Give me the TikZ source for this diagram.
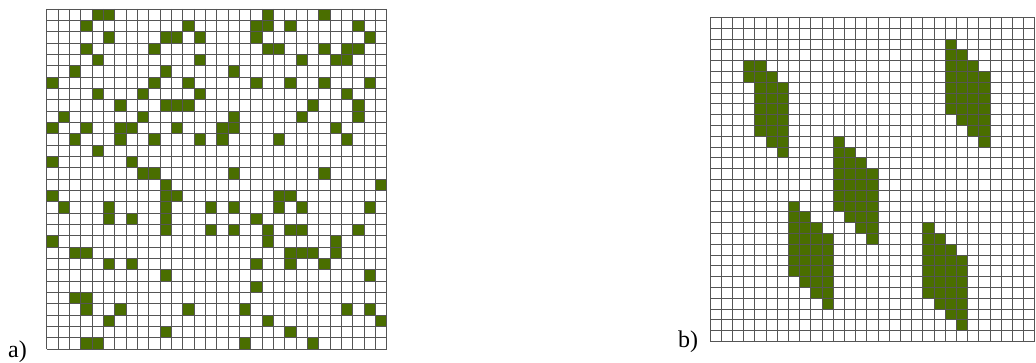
\documentclass[tikz,border=0pt]{standalone}
\usepackage{fontspec}
\setmainfont{Liberation Serif}
\definecolor{cellgreen}{RGB}{74,110,0}
\definecolor{gridgray}{RGB}{85,85,85}
\tikzset{
  cellfill/.style={fill=cellgreen},
  gridlines/.style={draw=gridgray, line width=0.7pt},
  panellabel/.style={anchor=base west, inner sep=0pt, font=\fontsize{24}{24}\selectfont},
}
\begin{document}
\begin{tikzpicture}[x=1pt,y=-1pt]
\useasboundingbox (0,0) rectangle (1036,363);
% ---- grid a ----
\begin{scope}[shift={(46.7,9)}, x=11.333pt, y=-11.333pt]
  \foreach \r/\cols in {
    0/{4,5,19,24}, 1/{3,12,18,19,21,27}, 2/{5,10,11,13,18,28},
    3/{3,9,19,20,24,26,27}, 4/{4,13,22,25,26}, 5/{2,10,16},
    6/{0,9,12,18,21,24,28}, 7/{4,8,13,26}, 8/{6,10,11,12,23,27},
    9/{1,8,16,22,27}, 10/{0,3,6,7,11,15,16,25}, 11/{2,6,9,13,15,20,26},
    12/{4}, 13/{0,7}, 14/{8,9,16,24}, 15/{10,29}, 16/{0,10,11,20,21},
    17/{1,5,10,14,16,20,22,28}, 18/{5,7,10,18}, 19/{10,14,16,19,21,22,27},
    20/{0,19,25}, 21/{2,3,21,22,23,25}, 22/{5,7,18,21,24}, 23/{10,28},
    24/{18}, 25/{2,3}, 26/{3,6,12,17,26,28}, 27/{5,19,29}, 28/{10,21},
    29/{3,4,17,23}}{
    \foreach \c in \cols { \fill[cellfill] (\c,\r) rectangle ++(1,1); }
  }
  \foreach \i in {0,...,30} {
    \draw[gridlines] (\i,0) -- (\i,30);
    \draw[gridlines] (0,\i) -- (30,\i);
  }
\end{scope}
% ---- grid b ----
\begin{scope}[shift={(710,17.3)}, x=11.2pt, y=-10.8pt]
  \foreach \c/\a/\b in {3/4/5, 4/4/10, 5/5/11, 6/6/12,
      21/2/8, 22/3/9, 23/4/10, 24/5/11,
      11/11/17, 12/12/18, 13/13/19, 14/14/20,
      7/17/23, 8/18/24, 9/19/25, 10/20/26,
      19/19/25, 20/20/26, 21/21/27, 22/22/28} {
    \fill[cellfill] (\c,\a) rectangle (\c+1,\b+1);
  }
  \foreach \i in {0,...,29} { \draw[gridlines] (\i,0) -- (\i,30); }
  \foreach \j in {0,...,30} { \draw[gridlines] (0,\j) -- (29,\j); }
\end{scope}
\node[panellabel] (la) at (8,357) {a)};
\node[panellabel] (lb) at (678,348) {b)};
\end{tikzpicture}
\end{document}
